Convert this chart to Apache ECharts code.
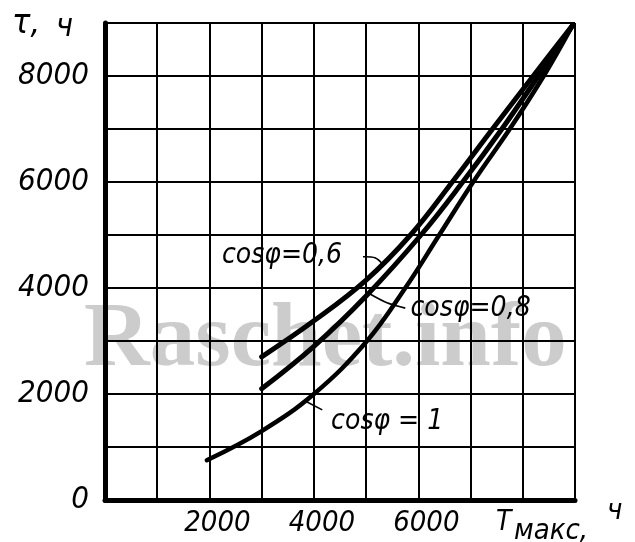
<!DOCTYPE html>
<html>
<head>
<meta charset="utf-8">
<script src="https://cdn.jsdelivr.net/npm/echarts@6/dist/echarts.min.js"></script>
<style>
  html, body { margin: 0; padding: 0; background: #fff; }
  #chart { width: 635px; height: 542px; }
</style>
</head>
<body>
<div id="chart"></div>
<script>
// T_max (h) vs tau (h)
const tmax06 = [3000, 4000, 5000, 5850, 6650, 7420, 8200, 8950];
const tau06 = [2700, 3380, 4150, 5000, 6000, 7000, 8000, 8950];

const tmax08 = [3000, 4000, 5000, 6050, 6850, 7600, 8300, 8950];
const tau08 = [2100, 2900, 3850, 5000, 6000, 7000, 8000, 8950];

const tmax1 = [1950, 3000, 4000, 5000, 5750, 6400, 7050, 7750, 8400, 8950];
const tau1 = [750, 1300, 2000, 2980, 4000, 5000, 6000, 7000, 8000, 8950];

const xTickLabels = [2000, 4000, 6000];
const yTickLabels = [0, 2000, 4000, 6000, 8000];

// curve captions, in data coordinates
const captionText = ['cosφ=0,6', 'cosφ=0,8', 'cosφ = 1'];
const captionAt = [[2240, 4600], [5850, 3600], [4330, 1480]];
const leaders = [
    [[4940, 4590], [5170, 4570], [5330, 4440]],
    [[5750, 3620], [5400, 3720], [5050, 3900]],
    [[4160, 1700], [3870, 1850]]
];

const font = "'DejaVu Sans Condensed', 'DejaVu Sans', sans-serif";

function pairs(xs, ys) {
    return xs.map(function (x, i) { return [x, ys[i]]; });
}

function curve(name, xs, ys, w) {
    return {
        name: name,
        type: 'line',
        data: pairs(xs, ys),
        smooth: 0.4,
        symbol: 'none',
        z: 5,
        lineStyle: { color: '#000', width: w, cap: 'round' }
    };
}

const chart = echarts.init(document.getElementById('chart'));

const option = {
    animation: false,
    backgroundColor: '#fff',
    grid: { left: 105, right: 60, top: 23, bottom: 42 },
    xAxis: {
        type: 'value',
        min: 0,
        max: 9000,
        interval: 1000,
        axisLine: { show: true, onZero: false, lineStyle: { color: '#000', width: 5 } },
        axisTick: { show: false },
        splitLine: { show: true, lineStyle: { color: '#000', width: 2 } },
        axisLabel: {
            margin: 9,
            padding: [0, 0, 0, 16],
            color: '#000',
            fontFamily: font,
            fontStyle: 'italic',
            fontSize: 29,
            formatter: function (v) {
                return xTickLabels.indexOf(v) >= 0 ? String(v) : '';
            }
        }
    },
    yAxis: {
        type: 'value',
        min: 0,
        max: 9000,
        interval: 1000,
        axisLine: { show: true, onZero: false, lineStyle: { color: '#000', width: 5 } },
        axisTick: { show: false },
        splitLine: { show: true, lineStyle: { color: '#000', width: 2 } },
        axisLabel: {
            margin: 16,
            color: '#000',
            fontFamily: font,
            fontStyle: 'italic',
            fontSize: 31,
            formatter: function (v) {
                return yTickLabels.indexOf(v) >= 0 ? String(v) : '';
            }
        }
    },
    series: [
        curve('cos 0.6', tmax06, tau06, 5),
        curve('cos 0.8', tmax08, tau08, 5),
        curve('cos 1', tmax1, tau1, 4.5)
    ]
};
chart.setOption(option);

function px(p) {
    return chart.convertToPixel({ gridIndex: 0 }, p);
}

function label(text, x, y, size) {
    return {
        type: 'text',
        z: 10,
        style: {
            text: text, x: x, y: y,
            verticalAlign: 'middle',
            font: 'italic ' + size + 'px ' + font,
            fill: '#000'
        }
    };
}

const graphics = [
    {
        type: 'text',
        z: -10,
        style: {
            text: 'Raschet.info',
            x: 84, y: 341,
            verticalAlign: 'middle',
            font: "bold 91px 'Liberation Serif', serif",
            fill: '#cccccc'
        }
    },
    // axis names
    label('τ,', 12, 24, 34),
    label('ч', 56, 28, 32),
    label('T', 496, 523, 28),
    label('макс,', 514, 531, 29),
    label('ч', 607, 511, 29)
];

captionText.forEach(function (t, i) {
    const p = px(captionAt[i]);
    graphics.push(label(t, p[0], p[1], 28));
    graphics.push({
        type: 'polyline',
        z: 10,
        shape: { points: leaders[i].map(px), smooth: 0.3 },
        style: { stroke: '#000', lineWidth: 1.6, fill: null }
    });
});

chart.setOption({ graphic: { elements: graphics } });
</script>
</body>
</html>
